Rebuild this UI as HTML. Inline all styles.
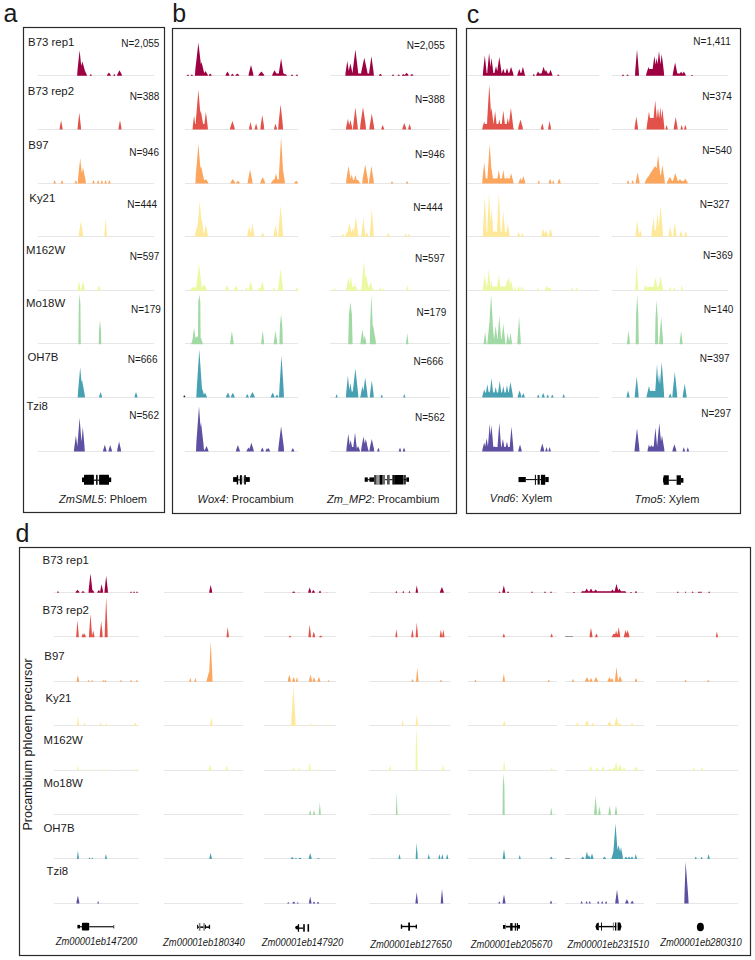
<!DOCTYPE html><html><head><meta charset="utf-8"><style>html,body{margin:0;padding:0;background:#fff;width:755px;height:960px;overflow:hidden}svg{display:block}text{font-family:"Liberation Sans",sans-serif;fill:#1a1a1a}.i{font-style:italic}</style></head><body><svg width="755" height="960" viewBox="0 0 755 960"><rect x="0" y="0" width="755" height="960" fill="#fff"/><g font-size="25"><text x="3.5" y="21.9">a</text><text x="172.2" y="22.3">b</text><text x="466.8" y="22.5">c</text><text x="15.5" y="542">d</text></g><g fill="none" stroke="#2a2a2a" stroke-width="1.2"><rect x="23.5" y="27.5" width="141" height="485"/><rect x="172.5" y="28.5" width="284" height="485"/><rect x="466.5" y="28.5" width="274" height="485"/><rect x="19.5" y="547.5" width="731" height="408"/></g><g stroke="#e6e6e6" stroke-width="1"><line x1="38" y1="75.5" x2="154" y2="75.5"/><line x1="185" y1="75.5" x2="298" y2="75.5"/><line x1="330" y1="75.5" x2="450" y2="75.5"/><line x1="467" y1="75.5" x2="599" y2="75.5"/><line x1="612" y1="75.5" x2="728" y2="75.5"/><line x1="54" y1="592.5" x2="138.7" y2="592.5"/><line x1="164" y1="592.5" x2="243.4" y2="592.5"/><line x1="263.8" y1="592.5" x2="336" y2="592.5"/><line x1="369.5" y1="592.5" x2="450.3" y2="592.5"/><line x1="468" y1="592.5" x2="557" y2="592.5"/><line x1="565" y1="592.5" x2="644" y2="592.5"/><line x1="656" y1="592.5" x2="738" y2="592.5"/><line x1="38" y1="129.5" x2="154" y2="129.5"/><line x1="185" y1="129.5" x2="298" y2="129.5"/><line x1="330" y1="129.5" x2="450" y2="129.5"/><line x1="467" y1="129.5" x2="599" y2="129.5"/><line x1="612" y1="129.5" x2="728" y2="129.5"/><line x1="54" y1="636.5" x2="138.7" y2="636.5"/><line x1="164" y1="636.5" x2="243.4" y2="636.5"/><line x1="263.8" y1="636.5" x2="336" y2="636.5"/><line x1="369.5" y1="636.5" x2="450.3" y2="636.5"/><line x1="468" y1="636.5" x2="557" y2="636.5"/><line x1="565" y1="636.5" x2="644" y2="636.5"/><line x1="656" y1="636.5" x2="738" y2="636.5"/><line x1="38" y1="183.5" x2="154" y2="183.5"/><line x1="185" y1="183.5" x2="298" y2="183.5"/><line x1="330" y1="183.5" x2="450" y2="183.5"/><line x1="467" y1="183.5" x2="599" y2="183.5"/><line x1="612" y1="183.5" x2="728" y2="183.5"/><line x1="54" y1="681.5" x2="138.7" y2="681.5"/><line x1="164" y1="681.5" x2="243.4" y2="681.5"/><line x1="263.8" y1="681.5" x2="336" y2="681.5"/><line x1="369.5" y1="681.5" x2="450.3" y2="681.5"/><line x1="468" y1="681.5" x2="557" y2="681.5"/><line x1="565" y1="681.5" x2="644" y2="681.5"/><line x1="656" y1="681.5" x2="738" y2="681.5"/><line x1="38" y1="236.5" x2="154" y2="236.5"/><line x1="185" y1="236.5" x2="298" y2="236.5"/><line x1="330" y1="236.5" x2="450" y2="236.5"/><line x1="467" y1="236.5" x2="599" y2="236.5"/><line x1="612" y1="236.5" x2="728" y2="236.5"/><line x1="54" y1="725.5" x2="138.7" y2="725.5"/><line x1="164" y1="725.5" x2="243.4" y2="725.5"/><line x1="263.8" y1="725.5" x2="336" y2="725.5"/><line x1="369.5" y1="725.5" x2="450.3" y2="725.5"/><line x1="468" y1="725.5" x2="557" y2="725.5"/><line x1="565" y1="725.5" x2="644" y2="725.5"/><line x1="656" y1="725.5" x2="738" y2="725.5"/><line x1="38" y1="290.5" x2="154" y2="290.5"/><line x1="185" y1="290.5" x2="298" y2="290.5"/><line x1="330" y1="290.5" x2="450" y2="290.5"/><line x1="467" y1="290.5" x2="599" y2="290.5"/><line x1="612" y1="290.5" x2="728" y2="290.5"/><line x1="54" y1="770.5" x2="138.7" y2="770.5"/><line x1="164" y1="770.5" x2="243.4" y2="770.5"/><line x1="263.8" y1="770.5" x2="336" y2="770.5"/><line x1="369.5" y1="770.5" x2="450.3" y2="770.5"/><line x1="468" y1="770.5" x2="557" y2="770.5"/><line x1="565" y1="770.5" x2="644" y2="770.5"/><line x1="656" y1="770.5" x2="738" y2="770.5"/><line x1="38" y1="343.5" x2="154" y2="343.5"/><line x1="185" y1="343.5" x2="298" y2="343.5"/><line x1="330" y1="343.5" x2="450" y2="343.5"/><line x1="467" y1="343.5" x2="599" y2="343.5"/><line x1="612" y1="343.5" x2="728" y2="343.5"/><line x1="54" y1="814.5" x2="138.7" y2="814.5"/><line x1="164" y1="814.5" x2="243.4" y2="814.5"/><line x1="263.8" y1="814.5" x2="336" y2="814.5"/><line x1="369.5" y1="814.5" x2="450.3" y2="814.5"/><line x1="468" y1="814.5" x2="557" y2="814.5"/><line x1="565" y1="814.5" x2="644" y2="814.5"/><line x1="656" y1="814.5" x2="738" y2="814.5"/><line x1="38" y1="397.5" x2="154" y2="397.5"/><line x1="185" y1="397.5" x2="298" y2="397.5"/><line x1="330" y1="397.5" x2="450" y2="397.5"/><line x1="467" y1="397.5" x2="599" y2="397.5"/><line x1="612" y1="397.5" x2="728" y2="397.5"/><line x1="54" y1="858.5" x2="138.7" y2="858.5"/><line x1="164" y1="858.5" x2="243.4" y2="858.5"/><line x1="263.8" y1="858.5" x2="336" y2="858.5"/><line x1="369.5" y1="858.5" x2="450.3" y2="858.5"/><line x1="468" y1="858.5" x2="557" y2="858.5"/><line x1="565" y1="858.5" x2="644" y2="858.5"/><line x1="656" y1="858.5" x2="738" y2="858.5"/><line x1="38" y1="451.5" x2="154" y2="451.5"/><line x1="185" y1="451.5" x2="298" y2="451.5"/><line x1="330" y1="451.5" x2="450" y2="451.5"/><line x1="467" y1="451.5" x2="599" y2="451.5"/><line x1="612" y1="451.5" x2="728" y2="451.5"/><line x1="54" y1="903.5" x2="138.7" y2="903.5"/><line x1="164" y1="903.5" x2="243.4" y2="903.5"/><line x1="263.8" y1="903.5" x2="336" y2="903.5"/><line x1="369.5" y1="903.5" x2="450.3" y2="903.5"/><line x1="468" y1="903.5" x2="557" y2="903.5"/><line x1="565" y1="903.5" x2="644" y2="903.5"/><line x1="656" y1="903.5" x2="738" y2="903.5"/><line x1="565" y1="636.5" x2="573" y2="636.5" stroke="#999"/><line x1="565" y1="858.5" x2="570" y2="858.5" stroke="#999"/></g><path fill="#9e0142" d="M77.1 75.8L77.5 70.3L79.6 50.3L81.7 70.3L82.1 75.8ZM78.9 75.8L79.4 72.5L82.4 61.4L85.4 72.5L85.9 75.8ZM82 75.8L82.4 74.2L84.5 70L86.6 74.2L87 75.8ZM89.8 75.8L90 75L90.8 74L91.6 75L91.8 75.8ZM106.9 75.8L107.2 74.7L108.9 72.5L110.6 74.7L110.9 75.8ZM113.3 75.8L113.5 75L114.3 74L115.1 75L115.3 75.8ZM117 75.8L117.4 74.3L119.5 70.3L121.6 74.3L122 75.8ZM194.9 75.8L195.4 68.8L198.4 42.7L201.4 68.8L201.9 75.8ZM198.5 75.8L198.9 72.6L201.5 62L204.1 72.6L204.5 75.8ZM203 75.8L203.4 74.4L205.5 70.9L207.6 74.4L208 75.8ZM208.7 75.8L208.9 74.9L210.2 73.5L211.5 74.9L211.7 75.8ZM187 75.8L187.2 75.1L188 74.5L188.8 75.1L189 75.8ZM190.8 75.8L191 75.1L191.8 74.5L192.7 75.1L192.8 75.8ZM225.5 75.8L225.8 74.6L227.5 71.6L229.2 74.6L229.5 75.8ZM230.9 75.8L231.1 75L232.4 73.7L233.7 75L233.9 75.8ZM235.3 75.8L235.6 74.9L237.3 73.5L239 74.9L239.3 75.8ZM248.5 75.8L248.9 73.2L251 65L253.1 73.2L253.5 75.8ZM258.4 75.8L258.8 74.6L261.4 71.6L263.9 74.6L264.4 75.8ZM272.1 75.8L272.5 74.3L274.6 70.3L276.7 74.3L277.1 75.8ZM278.6 75.8L279 71.9L281.1 58.5L283.2 71.9L283.6 75.8ZM283 75.8L283.3 75L285 74L286.7 75L287 75.8ZM291 75.8L291.1 75.1L292 74.5L292.9 75.1L293 75.8ZM296 75.8L296.1 75.1L297 74.5L297.9 75.1L298 75.8ZM345.3 75.8L345.6 72.4L347.3 60.9L349 72.4L349.3 75.8ZM347.9 75.8L348.3 72.9L350.4 63.4L352.5 72.9L352.9 75.8ZM352.4 75.8L352.8 70.2L355.4 49.6L357.9 70.2L358.4 75.8ZM360.8 75.8L361.3 71.8L364.3 57.7L367.3 71.8L367.8 75.8ZM368.9 75.8L369.3 71.5L371.4 56.2L373.5 71.5L373.9 75.8ZM378.9 75.8L379.1 75L380.4 73.7L381.7 75L381.9 75.8ZM392 75.8L392.1 75.1L393 74.5L393.9 75.1L394 75.8ZM397.7 75.8L397.8 75.1L398.7 74.5L399.6 75.1L399.7 75.8ZM401.9 75.8L402.1 75L403.4 74L404.7 75L404.9 75.8ZM404.6 75.8L404.9 74.8L406.6 72.8L408.3 74.8L408.6 75.8ZM410.4 75.8L410.6 75L411.9 74L413.2 75L413.4 75.8ZM195 75.8L197 73L206 73L208 75.8ZM272 75.8L274 73.5L284 73.5L286 75.8ZM345 75.8L347 73.5L371 73.5L373 75.8ZM482.8 75.8L483.1 71.4L484.8 55.6L486.5 71.4L486.8 75.8ZM487.1 75.8L487.4 70.8L489.1 53L490.8 70.8L491.1 75.8ZM489.5 75.8L489.8 71.8L491.5 58L493.2 71.8L493.5 75.8ZM494 75.8L494.3 73.4L496 66L497.7 73.4L498 75.8ZM496.8 75.8L497.2 71.6L499.3 57L501.4 71.6L501.8 75.8ZM501.3 75.8L501.6 74L503.3 68.8L505 74L505.3 75.8ZM505 75.8L505.3 73.8L507 68L508.7 73.8L509 75.8ZM508.6 75.8L509 73.6L511.1 67L513.2 73.6L513.6 75.8ZM517.3 75.8L517.6 74L519.3 69L521 74L521.3 75.8ZM520.9 75.8L521.2 73.6L522.9 66.7L524.6 73.6L524.9 75.8ZM532.8 75.8L532.9 75L533.8 74L534.6 75L534.8 75.8ZM536.1 75.8L536.4 74.5L538.1 71.5L539.8 74.5L540.1 75.8ZM541.1 75.8L541.5 73.6L543.6 66.7L545.7 73.6L546.1 75.8ZM543.5 75.8L543.9 74.2L546 70L548.1 74.2L548.5 75.8ZM548.5 75.8L548.8 74.2L550.5 69.7L552.2 74.2L552.5 75.8ZM557.3 75.8L557.4 75.1L558.3 74.5L559.1 75.1L559.3 75.8ZM622 75.8L622.1 75.1L623 74.5L623.9 75.1L624 75.8ZM626.6 75.8L626.8 75.1L627.6 74.5L628.5 75.1L628.6 75.8ZM635 75.8L635.3 70.1L637 49.4L638.7 70.1L639 75.8ZM646 75.8L646.4 73.6L648.5 67L650.6 73.6L651 75.8ZM648.3 75.8L648.6 74L650.3 69L652 74L652.3 75.8ZM651.9 75.8L652.3 71.5L654.4 56.1L656.5 71.5L656.9 75.8ZM654.1 75.8L654.5 71.8L656.6 58L658.7 71.8L659.1 75.8ZM656.5 75.8L656.9 70.4L659 51L661.1 70.4L661.5 75.8ZM659.2 75.8L659.6 71.1L661.7 54.3L663.8 71.1L664.2 75.8ZM672.6 75.8L673 72.7L675.1 62.5L677.2 72.7L677.6 75.8ZM676 75.8L676.3 75L678 74L679.7 75L680 75.8ZM679.1 75.8L679.4 74.5L681.1 71.5L682.8 74.5L683.1 75.8ZM681.8 75.8L682.1 74.5L683.8 71.5L685.5 74.5L685.8 75.8ZM691 75.8L691.1 75.2L692 75L692.9 75.2L693 75.8ZM483 75.8L485 73L511.5 73L513.5 75.8ZM517 75.8L519 73L523.5 73L525.5 75.8ZM536 75.8L538 73.5L550 73.5L552 75.8ZM647 75.8L649 69L662 69L664 75.8ZM673 75.8L675 73.5L684 73.5L686 75.8Z"/><path fill="#9e0142" d="M57.2 592.7L57.3 592L58 591L58.7 592L58.8 592.7ZM75.5 592.7L75.8 591.7L77.5 589.7L79.2 591.7L79.5 592.7ZM81.5 592.7L81.7 592L83 591L84.3 592L84.5 592.7ZM88.5 592.7L88.8 588.5L90.5 573.6L92.2 588.5L92.5 592.7ZM91.2 592.7L91.4 591.8L92.7 590L94 591.8L94.2 592.7ZM97.3 592.7L97.5 591.8L98.8 590L100.1 591.8L100.3 592.7ZM100.1 592.7L100.3 590.6L101.6 584.2L102.9 590.6L103.1 592.7ZM104.4 592.7L104.7 588.9L106.2 575.8L107.7 588.9L108 592.7ZM130.2 592.7L130.3 592.1L131 591.5L131.7 592.1L131.8 592.7ZM133.2 592.7L133.3 592.1L134 591.5L134.7 592.1L134.8 592.7ZM136.2 592.7L136.3 592.1L137 591.5L137.7 592.1L137.8 592.7ZM209.2 592.7L209.4 590.8L210.7 585L212 590.8L212.2 592.7ZM292.2 592.7L292.4 592.1L293.7 591.5L295 592.1L295.2 592.7ZM297.8 592.7L297.9 592.4L298.8 593L299.7 592.4L299.8 592.7ZM308.2 592.7L308.4 591.2L309.7 587.4L311 591.2L311.2 592.7ZM311.9 592.7L312.1 591.8L313.4 590L314.7 591.8L314.9 592.7ZM318.8 592.7L319 591.9L320 590.5L321 591.9L321.2 592.7ZM326.2 592.7L326.3 592.4L327 593L327.7 592.4L327.8 592.7ZM395.6 592.7L395.7 592L396.4 591L397.1 592L397.2 592.7ZM402.5 592.7L402.6 592L403.3 591L404 592L404.1 592.7ZM408.7 592.7L408.8 592L409.5 591L410.2 592L410.3 592.7ZM415.6 592.7L415.8 590.9L416.8 585.5L417.8 590.9L418 592.7ZM439.9 592.7L440.2 591.2L441.9 587L443.6 591.2L443.9 592.7ZM498.7 592.7L498.8 592.1L499.5 591.5L500.2 592.1L500.3 592.7ZM502.3 592.7L502.5 590.9L503.8 585.5L505.1 590.9L505.3 592.7ZM507 592.7L507.1 592.1L508 591.5L508.9 592.1L509 592.7ZM531.2 592.7L531.3 592.1L532 591.5L532.7 592.1L532.8 592.7ZM544.2 592.7L544.3 592.1L545 591.5L545.7 592.1L545.8 592.7ZM550.2 592.7L550.3 592.1L551 591.5L551.7 592.1L551.8 592.7ZM573 592.7L573.1 592.2L574 592L574.9 592.2L575 592.7ZM581.1 592.7L581.3 592L582.6 591L583.9 592L584.1 592.7ZM584.7 592.7L585 591.4L586.7 588.4L588.4 591.4L588.7 592.7ZM589 592.7L589.3 591.4L591 588.4L592.7 591.4L593 592.7ZM593.7 592.7L594 591.6L595.7 589.4L597.4 591.6L597.7 592.7ZM598.5 592.7L598.7 592L600 591L601.3 592L601.5 592.7ZM602.5 592.7L602.7 592L604 591L605.3 592L605.5 592.7ZM606.5 592.7L606.7 592L608 591L609.3 592L609.5 592.7ZM610.4 592.7L610.7 591.7L612.4 589.5L614.1 591.7L614.4 592.7ZM614.5 592.7L614.8 590.6L616.5 584L618.2 590.6L618.5 592.7ZM617.4 592.7L617.7 591.4L619.4 588.4L621.1 591.4L621.4 592.7ZM623.3 592.7L623.5 592L624.8 591L626.1 592L626.3 592.7ZM630 592.7L630.1 592.2L631 592L631.9 592.2L632 592.7ZM635 592.7L635.1 592L636 591L636.9 592L637 592.7ZM677 592.7L677.1 592.1L677.8 591.5L678.5 592.1L678.6 592.7ZM684.9 592.7L685 592.1L685.5 591.5L686 592.1L686.1 592.7ZM691.8 592.7L691.9 592.1L692.6 591.5L693.3 592.1L693.4 592.7ZM698 592.7L698.1 592.1L699 591.5L699.9 592.1L700 592.7ZM700.2 592.7L700.3 592.1L701 591.5L701.7 592.1L701.8 592.7ZM708.4 592.7L708.5 592.1L709.2 591.5L709.9 592.1L710 592.7ZM581 592.7L583 591.2L624 591.2L626 592.7Z"/><path fill="#e2524a" d="M59.6 129.5L59.8 127.2L61.1 120.2L62.4 127.2L62.6 129.5ZM77.5 129.5L77.8 125.7L79.3 112.4L80.8 125.7L81.1 129.5ZM118.5 129.5L118.7 127.2L120 120.2L121.3 127.2L121.5 129.5ZM192.6 129.5L192.8 126.3L194.1 115.5L195.4 126.3L195.6 129.5ZM195.4 129.5L195.8 121.2L198.4 90L201 121.2L201.4 129.5ZM197.8 129.5L198.2 125.4L200.8 110.8L203.4 125.4L203.8 129.5ZM203.9 129.5L204.2 125.5L205.9 111.7L207.6 125.5L207.9 129.5ZM229.9 129.5L230.3 127.4L232.4 121.1L234.5 127.4L234.9 129.5ZM249 129.5L249.2 127.6L250.5 122L251.8 127.6L252 129.5ZM254.6 129.5L254.8 127.9L256.1 123.4L257.4 127.9L257.6 129.5ZM260.3 129.5L260.6 126.2L262.3 115.1L264 126.2L264.3 129.5ZM274 129.5L274.2 127.9L275.5 123.5L276.8 127.9L277 129.5ZM278.1 129.5L278.5 124L280.6 104.2L282.7 124L283.1 129.5ZM345.9 129.5L346.2 127L347.9 118.8L349.6 127L349.9 129.5ZM348.4 129.5L348.7 127.2L350.4 120L352.1 127.2L352.4 129.5ZM352.9 129.5L353.3 124.7L355.4 107.4L357.5 124.7L357.9 129.5ZM360 129.5L360.4 124.6L363 107L365.6 124.6L366 129.5ZM369.3 129.5L369.7 125.9L371.8 113.6L373.9 125.9L374.3 129.5ZM381.2 129.5L381.4 128.2L382.7 124.9L384 128.2L384.2 129.5ZM402.3 129.5L402.6 127.8L404.3 123L406 127.8L406.3 129.5ZM408.1 129.5L408.3 128L409.6 124L410.9 128L411.1 129.5ZM192.5 129.5L194.5 124L206 124L208 129.5ZM482.2 129.5L482.5 127.5L484.2 121.5L485.9 127.5L486.2 129.5ZM486.8 129.5L487.2 120.1L489.3 84.6L491.4 120.1L491.8 129.5ZM489 129.5L489.4 124.8L491.5 107.8L493.6 124.8L494 129.5ZM493.1 129.5L493.4 125.4L495.1 111L496.8 125.4L497.1 129.5ZM497.3 129.5L497.6 127.1L499.3 119.6L501 127.1L501.3 129.5ZM501.3 129.5L501.6 125.3L503.3 110.6L505 125.3L505.3 129.5ZM505.8 129.5L506.1 126.8L507.8 118L509.5 126.8L509.8 129.5ZM508.4 129.5L508.8 124.8L510.9 107.8L513 124.8L513.4 129.5ZM518 129.5L518.4 127.1L520.5 119.6L522.6 127.1L523 129.5ZM540.8 129.5L541 127.9L542.3 123.3L543.6 127.9L543.8 129.5ZM548.1 129.5L548.3 127.4L549.6 120.9L550.9 127.4L551.1 129.5ZM634.5 129.5L634.8 126.5L636.3 116.6L637.8 126.5L638.1 129.5ZM646.5 129.5L646.9 125.5L649 111.5L651.1 125.5L651.5 129.5ZM652.7 129.5L653.1 123.3L655.2 100.6L657.3 123.3L657.7 129.5ZM656 129.5L656.3 124.8L658 107.8L659.7 124.8L660 129.5ZM658.3 129.5L658.6 124.6L660.3 107L662 124.6L662.3 129.5ZM660.4 129.5L660.7 125L662.4 108.8L664.1 125L664.4 129.5ZM665.4 129.5L665.6 128.2L666.6 125L667.6 128.2L667.8 129.5ZM673.7 129.5L674 126.6L675.7 117L677.4 126.6L677.7 129.5ZM680.5 129.5L680.7 128.2L681.7 125L682.7 128.2L682.9 129.5ZM684.1 129.5L684.3 128.1L685.3 124.7L686.3 128.1L686.5 129.5ZM483 129.5L485 124L512 124L514 129.5ZM647 129.5L649 118L662 118L664 129.5Z"/><path fill="#e2524a" d="M76.2 637.2L76.4 633.4L77.5 620.3L78.6 633.4L78.8 637.2ZM81.7 637.2L81.9 636L83 633.3L84.1 636L84.3 637.2ZM83.2 637.2L83.4 636L84.5 633.3L85.6 636L85.8 637.2ZM89 637.2L89.2 632.1L90.5 613.8L91.8 632.1L92 637.2ZM91.9 637.2L92.1 635.5L93.2 630.5L94.3 635.5L94.5 637.2ZM99.7 637.2L99.9 633.6L101.2 621.2L102.5 633.6L102.7 637.2ZM104.7 637.2L104.9 628.8L106.2 597.1L107.5 628.8L107.7 637.2ZM226.5 637.2L226.7 634.8L227.7 627L228.7 634.8L228.9 637.2ZM288.8 637.2L289 636.5L290 635.5L291 636.5L291.2 637.2ZM308.4 637.2L308.6 634.3L309.7 624.8L310.8 634.3L311 637.2ZM312.5 637.2L312.7 635.6L313.8 631.4L314.9 635.6L315.1 637.2ZM319.2 637.2L319.4 636.5L320.7 635.5L322 636.5L322.2 637.2ZM395.4 637.2L395.5 635.2L396.4 629.2L397.2 635.2L397.4 637.2ZM411.2 637.2L411.4 635.2L412.4 629.2L413.4 635.2L413.6 637.2ZM415.6 637.2L415.8 633.9L416.8 622.6L417.8 633.9L418 637.2ZM439.7 637.2L439.9 635.3L440.9 629.6L441.9 635.3L442.1 637.2ZM442.1 637.2L442.3 635.3L443.3 629.6L444.3 635.3L444.5 637.2ZM502.6 637.2L502.8 636.1L503.8 633.6L504.8 636.1L505 637.2ZM550.4 637.2L550.6 636.1L551.6 633.6L552.6 636.1L552.8 637.2ZM589.5 637.2L589.7 634.9L591 627.7L592.3 634.9L592.5 637.2ZM595.1 637.2L595.3 636.1L596.4 633.6L597.5 636.1L597.7 637.2ZM612.1 637.2L612.3 636.1L613.6 633.6L614.9 636.1L615.1 637.2ZM614.6 637.2L614.8 635.5L616.1 630.5L617.4 635.5L617.6 637.2ZM617.2 637.2L617.4 634.8L618.7 627.3L620 634.8L620.2 637.2ZM623.8 637.2L624.1 635.4L625.6 630L627.1 635.4L627.4 637.2ZM625.9 637.2L626.2 635.4L627.7 630L629.2 635.4L629.5 637.2ZM715.9 637.2L716 635.7L716.9 631.5L717.8 635.7L717.9 637.2ZM611.5 637.2L613.5 634L618.5 634L620.5 637.2ZM623.5 637.2L625.5 633L627.5 633L629.5 637.2Z"/><path fill="#fca55d" d="M77.7 183.5L78.1 178L80.2 157.9L82.3 178L82.7 183.5ZM80 183.5L80.5 179.9L83 167.5L85.5 179.9L86 183.5ZM53.4 183.5L53.6 182.4L54.6 180L55.6 182.4L55.8 183.5ZM60.8 183.5L61 182.4L62 180L63 182.4L63.2 183.5ZM74.7 183.5L74.9 182.4L75.9 180L76.9 182.4L77.1 183.5ZM92.3 183.5L92.5 182.4L93.5 180L94.5 182.4L94.7 183.5ZM97 183.5L97.2 182.4L98.2 180L99.2 182.4L99.4 183.5ZM100.7 183.5L100.9 182.4L101.9 180L102.9 182.4L103.1 183.5ZM104.4 183.5L104.6 182.4L105.6 180L106.6 182.4L106.8 183.5ZM108.1 183.5L108.3 182.4L109.3 180L110.3 182.4L110.5 183.5ZM195.4 183.5L195.8 175.2L198.4 143.9L201 175.2L201.4 183.5ZM197.5 183.5L198 179.6L201 166L204 179.6L204.5 183.5ZM203.4 183.5L203.8 182.2L205.9 178.9L208 182.2L208.4 183.5ZM230.3 183.5L230.7 182.2L232.8 178.9L234.9 182.2L235.3 183.5ZM235.9 183.5L236.2 182.6L237.9 180.8L239.6 182.6L239.9 183.5ZM247.6 183.5L248 180.3L250.1 169.5L252.2 180.3L252.6 183.5ZM260.2 183.5L260.6 181.8L262.7 177L264.8 181.8L265.2 183.5ZM271 183.5L271.4 182.2L274 179L276.6 182.2L277 183.5ZM274 183.5L274.3 181L276 173.2L277.7 181L278 183.5ZM278.6 183.5L279 173.8L281.1 136.9L283.2 173.8L283.6 183.5ZM281 183.5L281.3 180.4L283 170L284.7 180.4L285 183.5ZM294.2 183.5L294.5 182.6L296.2 180.8L297.9 182.6L298.2 183.5ZM346 183.5L346.4 179.5L348.5 165.7L350.6 179.5L351 183.5ZM349.7 183.5L350 181.3L351.7 174.6L353.4 181.3L353.7 183.5ZM353.4 183.5L353.7 181.4L355.4 175L357.1 181.4L357.4 183.5ZM356 183.5L356.3 182.4L358 180L359.7 182.4L360 183.5ZM362.2 183.5L362.6 179.3L365.2 164.6L367.8 179.3L368.2 183.5ZM368.9 183.5L369.3 179.6L371.4 166L373.5 179.6L373.9 183.5ZM391 183.5L391.1 182.6L392 181L392.9 182.6L393 183.5ZM406 183.5L406.1 182.6L407 181L407.9 182.6L408 183.5ZM195 183.5L197 180L206 180L208 183.5ZM272 183.5L274 179.5L282 179.5L284 183.5ZM346 183.5L348 180L358 180L360 183.5ZM482.2 183.5L482.5 178.9L484.2 162.3L485.9 178.9L486.2 183.5ZM487.2 183.5L487.6 175.2L489.7 144.2L491.8 175.2L492.2 183.5ZM489.5 183.5L489.8 180.1L491.5 168.7L493.2 180.1L493.5 183.5ZM494 183.5L494.3 182L496 178L497.7 182L498 183.5ZM496.8 183.5L497.1 180.4L498.8 170.1L500.5 180.4L500.8 183.5ZM501.3 183.5L501.6 180.4L503.3 170.1L505 180.4L505.3 183.5ZM505 183.5L505.3 181.8L507 177L508.7 181.8L509 183.5ZM508.6 183.5L509 181L511.1 173.2L513.2 181L513.6 183.5ZM518.5 183.5L518.8 182L520.5 178L522.2 182L522.5 183.5ZM521.3 183.5L521.6 181.6L523.3 176L525 181.6L525.3 183.5ZM537.7 183.5L537.9 182.4L538.7 180L539.6 182.4L539.7 183.5ZM548.6 183.5L548.8 182.2L550.1 179L551.4 182.2L551.6 183.5ZM552.2 183.5L552.4 182.4L553.2 180L554.1 182.4L554.2 183.5ZM557.7 183.5L557.9 182.1L559.2 178.5L560.5 182.1L560.7 183.5ZM626.9 183.5L627.1 182.4L628.1 180L629.1 182.4L629.3 183.5ZM631.5 183.5L631.7 182.4L632.7 180L633.7 182.4L633.9 183.5ZM635.6 183.5L635.9 180.9L637.6 172.3L639.3 180.9L639.6 183.5ZM644.7 183.5L645.1 181.9L647.2 177.6L649.3 181.9L649.7 183.5ZM649.6 183.5L650 181L652.1 173.2L654.2 181L654.6 183.5ZM655.1 183.5L655.6 177.4L658.1 155.1L660.6 177.4L661.1 183.5ZM659.9 183.5L660.3 179.4L662.4 165L664.5 179.4L664.9 183.5ZM666.8 183.5L667.2 181.9L669.3 177.7L671.4 181.9L671.8 183.5ZM672.8 183.5L673.2 181.2L675.3 174.1L677.4 181.2L677.8 183.5ZM678.4 183.5L678.7 182.5L680.2 180.3L681.7 182.5L682 183.5ZM683.5 183.5L683.8 182.3L685.3 179.6L686.8 182.3L687.1 183.5ZM483 183.5L485 178.5L511 178.5L513 183.5ZM645 183.5L646.5 179.6L655 166L663.5 179.6L665 183.5ZM645 183.5L647 178L663 178L665 183.5ZM667 183.5L667.5 181.8L670 177L672.5 181.8L673 183.5ZM672.3 183.5L672.8 181L675.3 173L677.8 181L678.3 183.5ZM677 183.5L677.5 182.2L680 179L682.5 182.2L683 183.5ZM682.8 183.5L683.2 182.1L685.3 178.6L687.4 182.1L687.8 183.5ZM667 183.5L669 181L686 181L688 183.5Z"/><path fill="#fca55d" d="M76.6 681.7L76.8 679.9L77.9 674.9L79 679.9L79.2 681.7ZM87.6 681.7L87.8 681L88.6 680L89.4 681L89.6 681.7ZM91 681.7L91.2 681L92 680L92.8 681L93 681.7ZM102.4 681.7L102.6 681L103.4 680L104.2 681L104.4 681.7ZM104.3 681.7L104.5 681L105.3 680L106.1 681L106.3 681.7ZM120 681.7L120.2 681L121 680L121.8 681L122 681.7ZM130 681.7L130.2 681L131 680L131.8 681L132 681.7ZM135.8 681.7L136 681L136.8 680L137.7 681L137.8 681.7ZM208.9 681.7L209.2 673.1L210.7 640.9L212.2 673.1L212.5 681.7ZM206.5 681.7L206.9 679.4L209 672L211.1 679.4L211.5 681.7ZM189.3 681.7L189.5 680.6L190.3 678L191.2 680.6L191.3 681.7ZM194.4 681.7L194.6 680.6L195.4 678L196.2 680.6L196.4 681.7ZM287.8 681.7L288 679.8L289.3 674.4L290.6 679.8L290.8 681.7ZM292.2 681.7L292.4 680.4L293.7 677L295 680.4L295.2 681.7ZM296 681.7L296.1 680.4L297 677L297.9 680.4L298 681.7ZM309 681.7L309.2 679.8L310.5 674.4L311.8 679.8L312 681.7ZM312.5 681.7L312.7 680.4L314 677L315.3 680.4L315.5 681.7ZM317.5 681.7L317.7 680.4L319 677L320.3 680.4L320.5 681.7ZM327.9 681.7L328 681L328.7 680L329.4 681L329.5 681.7ZM416.1 681.7L416.3 678.5L417.3 667.8L418.3 678.5L418.5 681.7ZM411.5 681.7L411.6 680.8L412.5 679L413.4 680.8L413.5 681.7ZM440 681.7L440.1 680.9L441 679.5L441.9 680.9L442 681.7ZM474.5 681.7L474.6 680.9L475.5 679.5L476.4 680.9L476.5 681.7ZM502.6 681.7L502.8 679.7L503.8 673.6L504.8 679.7L505 681.7ZM547.7 681.7L547.9 680.9L548.7 679.5L549.6 680.9L549.7 681.7ZM572 681.7L572.1 680.8L573 679L573.9 680.8L574 681.7ZM585 681.7L585.3 680.4L587 677L588.7 680.4L589 681.7ZM589.5 681.7L589.7 680.6L591 678L592.3 680.6L592.5 681.7ZM594 681.7L594.3 680.4L596 677L597.7 680.4L598 681.7ZM607.5 681.7L607.8 680.4L609.5 677L611.2 680.4L611.5 681.7ZM610.5 681.7L610.7 680.6L612 678L613.3 680.6L613.5 681.7ZM615 681.7L615.2 678.4L616.5 667L617.8 678.4L618 681.7ZM618 681.7L618.3 680.2L620 676L621.7 680.2L622 681.7ZM634.8 681.7L635 680.6L636 678L637 680.6L637.2 681.7ZM684.5 681.7L684.6 680.9L685.5 679.5L686.4 680.9L686.5 681.7ZM707.3 681.7L707.4 680.9L708.3 679.5L709.1 680.9L709.3 681.7Z"/><path fill="#fee99a" d="M78.7 236.7L79 233.1L80.9 220.9L82.8 233.1L83.1 236.7ZM104.3 236.7L104.5 232.7L105.6 218.5L106.7 232.7L106.9 236.7ZM196.9 236.7L197.3 229.1L199.7 200.9L202.1 229.1L202.5 236.7ZM194.8 236.7L195.1 234.2L197 226L198.9 234.2L199.2 236.7ZM199 236.7L199.4 232.6L201.5 218L203.6 232.6L204 236.7ZM203.9 236.7L204.2 233.8L205.9 224.4L207.6 233.8L207.9 236.7ZM247.2 236.7L247.5 234.2L249.2 226.3L250.9 234.2L251.2 236.7ZM250.4 236.7L250.7 233.8L252.4 224L254.1 233.8L254.4 236.7ZM261.2 236.7L261.4 235.4L262.7 232.3L264 235.4L264.2 236.7ZM273.5 236.7L273.8 233.9L275.5 224.8L277.2 233.9L277.5 236.7ZM278.1 236.7L278.5 230.1L280.6 205.6L282.7 230.1L283.1 236.7ZM341.8 236.7L341.9 235.6L342.8 233.4L343.7 235.6L343.8 236.7ZM346.9 236.7L347.3 233.5L349.4 222.9L351.5 233.5L351.9 236.7ZM350.6 236.7L350.9 234.6L352.6 228L354.3 234.6L354.6 236.7ZM353.3 236.7L353.7 232.3L355.8 216.9L357.9 232.3L358.3 236.7ZM361.3 236.7L361.6 232.5L363.3 217.8L365 232.5L365.3 236.7ZM365.2 236.7L365.4 235.4L366.7 232L368 235.4L368.2 236.7ZM369.8 236.7L370.1 230.6L371.8 208.4L373.5 230.6L373.8 236.7ZM386.8 236.7L387 235.6L388.3 233L389.6 235.6L389.8 236.7ZM404.8 236.7L404.9 235.6L405.8 233L406.7 235.6L406.8 236.7ZM408 236.7L408.1 235.7L409 233.5L409.9 235.7L410 236.7ZM195 236.7L197 233L206 233L208 236.7ZM345 236.7L347 232L357 232L359 236.7ZM482.8 236.7L483.1 228.3L484.8 196.8L486.5 228.3L486.8 236.7ZM487.1 236.7L487.4 227.4L489.1 192.3L490.8 227.4L491.1 236.7ZM489.5 236.7L489.8 230.7L491.5 208.6L493.2 230.7L493.5 236.7ZM493.1 236.7L493.4 235L495.1 230L496.8 235L497.1 236.7ZM496.8 236.7L497.1 227.3L498.8 191.9L500.5 227.3L500.8 236.7ZM501.3 236.7L501.6 231.2L503.3 211.3L505 231.2L505.3 236.7ZM505.8 236.7L506.1 233.8L507.8 224L509.5 233.8L509.8 236.7ZM517.2 236.7L517.4 235.4L518.7 232L520 235.4L520.2 236.7ZM521.1 236.7L521.3 235.6L522.3 233L523.3 235.6L523.5 236.7ZM541.2 236.7L541.5 234.7L543.2 228.5L544.9 234.7L545.2 236.7ZM544 236.7L544.3 235L546 230L547.7 235L548 236.7ZM548.5 236.7L548.8 234.7L550.5 228.5L552.2 234.7L552.5 236.7ZM635.4 236.7L635.7 233L637.2 220.4L638.7 233L639 236.7ZM638.8 236.7L639 235L640.3 230.3L641.6 235L641.8 236.7ZM651.4 236.7L651.7 232.5L653.4 217.7L655.1 232.5L655.4 236.7ZM655.5 236.7L655.8 231.6L657.5 213.1L659.2 231.6L659.5 236.7ZM658.1 236.7L658.5 230.1L660.6 205.9L662.7 230.1L663.1 236.7ZM668.4 236.7L668.7 234.3L670.2 226.7L671.7 234.3L672 236.7ZM673 236.7L673.3 233.5L674.8 222.7L676.3 233.5L676.6 236.7ZM679.6 236.7L679.8 235L681.1 230.3L682.4 235L682.6 236.7ZM684.2 236.7L684.4 235.2L685.7 231.2L687 235.2L687.2 236.7ZM483 236.7L485 232L508 232L510 236.7ZM651 236.7L653 230L661 230L663 236.7Z"/><path fill="#fee99a" d="M76.9 726L77.1 723.5L77.9 715.7L78.8 723.5L78.9 726ZM83.7 726L83.8 724.8L84.5 722L85.2 724.8L85.3 726ZM99.9 726L100 724.7L100.7 721.5L101.4 724.7L101.5 726ZM105.4 726L105.5 724.9L106.2 722.5L106.9 724.9L107 726ZM133.5 726L133.7 724.9L135 722.5L136.3 724.9L136.5 726ZM210.2 726L210.4 723.8L211.4 717L212.4 723.8L212.6 726ZM291.2 726L291.5 717.7L293.4 686.6L295.3 717.7L295.6 726ZM309.3 726L309.5 725.1L310.5 723.5L311.5 725.1L311.7 726ZM313 726L313.1 725.4L314 725L314.9 725.4L315 726ZM318 726L318.1 725.5L319 725.5L319.9 725.5L320 726ZM328 726L328.1 725.4L329 725L329.9 725.4L330 726ZM401.7 726L401.8 724.4L402.7 720L403.6 724.4L403.7 726ZM415.6 726L415.8 723.2L416.8 714.2L417.8 723.2L418 726ZM502.9 726L503.1 724.5L504.2 720.5L505.3 724.5L505.5 726ZM576 726L576.2 724.9L577.5 722.5L578.8 724.9L579 726ZM585 726L585.3 724.4L587 720L588.7 724.4L589 726ZM591.3 726L591.5 725L592.8 723L594.1 725L594.3 726ZM607.5 726L607.8 724.6L609.5 721L611.2 724.6L611.5 726ZM614.5 726L614.8 723.8L616.5 717.1L618.2 723.8L618.5 726ZM618.2 726L618.4 725L619.7 723L621 725L621.2 726ZM630.6 726L630.8 725L632.1 723L633.4 725L633.6 726Z"/><path fill="#edf8a3" d="M77.5 290.7L77.7 288.2L79 280.2L80.3 288.2L80.5 290.7ZM81 290.7L81.3 288.4L83 281L84.7 288.4L85 290.7ZM97.6 290.7L97.8 289.2L99.1 285.2L100.4 289.2L100.6 290.7ZM196 290.7L196.4 285L199 264.3L201.6 285L202 290.7ZM190 290.7L190.4 289.6L193 287L195.6 289.6L196 290.7ZM201 290.7L201.4 289L204 284L206.6 289L207 290.7ZM225 290.7L225.3 289.2L227 285L228.7 289.2L229 290.7ZM234 290.7L234.3 289.2L236 285.4L237.7 289.2L238 290.7ZM244.9 290.7L245.1 289.7L246.4 287.6L247.7 289.7L247.9 290.7ZM248.7 290.7L249 288.3L250.7 280.7L252.4 288.3L252.7 290.7ZM257.5 290.7L257.8 289.7L259.5 287.6L261.2 289.7L261.5 290.7ZM260.3 290.7L260.6 288.5L262.3 281.6L264 288.5L264.3 290.7ZM272.5 290.7L272.7 289.7L274 287.5L275.3 289.7L275.5 290.7ZM278.1 290.7L278.5 285.9L280.6 268.5L282.7 285.9L283.1 290.7ZM295.6 290.7L295.8 289.7L297.1 287.5L298.4 289.7L298.6 290.7ZM333.7 290.7L333.8 289.7L334.7 287.8L335.6 289.7L335.7 290.7ZM346.3 290.7L346.6 287.5L348.3 276.9L350 287.5L350.3 290.7ZM348.7 290.7L349 287.4L350.7 276L352.4 287.4L352.7 290.7ZM353.1 290.7L353.4 288.9L354.9 283.5L356.4 288.9L356.7 290.7ZM361.4 290.7L361.8 284.3L363.9 260.9L366 284.3L366.4 290.7ZM363 290.7L363.4 287.2L366 275L368.6 287.2L369 290.7ZM368.7 290.7L369 288.5L370.7 281.6L372.4 288.5L372.7 290.7ZM378.5 290.7L378.7 289.8L380 288L381.3 289.8L381.5 290.7ZM382 290.7L382.1 289.8L383 288L383.9 289.8L384 290.7ZM406.2 290.7L406.3 289.2L407.2 285L408.1 289.2L408.2 290.7ZM191 290.7L193 287.5L204 287.5L206 290.7ZM345 290.7L347 287L356 287L358 290.7ZM360 290.7L362 287.5L372 287.5L374 290.7ZM482.8 290.7L483.1 287.1L484.8 274.8L486.5 287.1L486.8 290.7ZM486.8 290.7L487.1 285.9L488.8 268.5L490.5 285.9L490.8 290.7ZM490 290.7L490.2 288.4L491.5 281L492.8 288.4L493 290.7ZM496.8 290.7L497.1 287.1L498.8 274.5L500.5 287.1L500.8 290.7ZM505 290.7L505.3 288L507 279L508.7 288L509 290.7ZM506.7 290.7L507 287.4L508.7 276.3L510.4 287.4L510.7 290.7ZM509.1 290.7L509.4 288.2L511.1 280L512.8 288.2L513.1 290.7ZM514 290.7L514.1 289.4L515 286L515.9 289.4L516 290.7ZM517 290.7L517.1 289.4L518 286L518.9 289.4L519 290.7ZM519 290.7L519.1 289.4L520 286L520.9 289.4L521 290.7ZM522 290.7L522.1 289.4L523 286L523.9 289.4L524 290.7ZM536.8 290.7L536.9 289.6L537.8 287L538.6 289.6L538.8 290.7ZM544.8 290.7L545.1 289.3L546.8 285.5L548.5 289.3L548.8 290.7ZM548.1 290.7L548.3 289.6L549.6 287L550.9 289.6L551.1 290.7ZM570.9 290.7L571 289.6L571.9 287L572.8 289.6L572.9 290.7ZM575.8 290.7L575.9 289.6L576.8 287L577.6 289.6L577.8 290.7ZM635.2 290.7L635.4 285L636.7 264L638 285L638.2 290.7ZM643.9 290.7L644.1 289L645.4 284.3L646.7 289L646.9 290.7ZM647.4 290.7L647.7 289.4L649.4 286.1L651.1 289.4L651.4 290.7ZM652.9 290.7L653.3 287.7L655.4 277.6L657.5 287.7L657.9 290.7ZM658.1 290.7L658.5 287.4L660.6 276.3L662.7 287.4L663.1 290.7ZM669 290.7L669.2 289.5L670.2 286.6L671.2 289.5L671.4 290.7ZM673.2 290.7L673.4 289.6L674.4 287.2L675.4 289.6L675.6 290.7ZM680.7 290.7L680.9 289.1L681.7 284.8L682.6 289.1L682.7 290.7ZM483 290.7L485 286.5L510.5 286.5L512.5 290.7ZM645 290.7L647 287L661 287L663 290.7Z"/><path fill="#edf8a3" d="M77.1 770.5L77.2 769L77.9 765L78.6 769L78.7 770.5ZM81.4 770.5L81.5 769.8L82 769L82.5 769.8L82.6 770.5ZM91.4 770.5L91.5 769.8L92 769L92.5 769.8L92.6 770.5ZM101 770.5L101.1 769.8L101.6 769L102.1 769.8L102.2 770.5ZM105.4 770.5L105.5 769.8L106.2 769L106.9 769.8L107 770.5ZM125.1 770.5L125.2 769.8L125.7 769L126.2 769.8L126.3 770.5ZM133.4 770.5L133.5 769.8L134 769L134.5 769.8L134.6 770.5ZM136.2 770.5L136.3 769.8L136.8 769L137.3 769.8L137.4 770.5ZM208.5 770.5L208.7 768.9L210 764.5L211.3 768.9L211.5 770.5ZM225.5 770.5L225.7 769.1L226.7 765.5L227.7 769.1L227.9 770.5ZM292.2 770.5L292.4 769.6L293.7 768L295 769.6L295.2 770.5ZM298.3 770.5L298.5 769.6L299.5 768L300.5 769.6L300.7 770.5ZM308.5 770.5L308.7 768.5L309.7 762.3L310.7 768.5L310.9 770.5ZM313 770.5L313.1 769.9L314 769.5L314.9 769.9L315 770.5ZM318.6 770.5L318.8 769.9L319.6 769.5L320.5 769.9L320.6 770.5ZM389.2 770.5L389.3 769L390.2 764.8L391.1 769L391.2 770.5ZM415.5 770.5L415.8 744.4L416.5 727.3L417.2 744.4L417.5 770.5ZM442 770.5L442.1 769L443 764.8L443.9 769L444 770.5ZM503.2 770.5L503.3 768L504.2 760.1L505.1 768L505.2 770.5ZM550.3 770.5L550.5 769.6L551.6 768L552.7 769.6L552.9 770.5ZM589.1 770.5L589.3 769.2L590.6 766L591.9 769.2L592.1 770.5ZM595.7 770.5L595.9 769.5L597.2 767.7L598.5 769.5L598.7 770.5ZM601.5 770.5L601.7 769.2L603 766.2L604.3 769.2L604.5 770.5ZM608 770.5L608.3 769.7L610 768.5L611.7 769.7L612 770.5ZM612.5 770.5L612.7 769.5L614 767.5L615.3 769.5L615.5 770.5ZM614.6 770.5L614.8 768.3L616.1 761.6L617.4 768.3L617.6 770.5ZM618 770.5L618.3 768.8L620 764.2L621.7 768.8L622 770.5ZM622.6 770.5L622.8 769.5L624.1 767.4L625.4 769.5L625.6 770.5ZM633.8 770.5L634.1 769.3L635.8 766.7L637.5 769.3L637.8 770.5ZM692.7 770.5L692.9 769.4L693.7 766.8L694.6 769.4L694.7 770.5ZM700.9 770.5L701 769.4L701.9 766.8L702.8 769.4L702.9 770.5Z"/><path fill="#a1d9a4" d="M78.4 344.2L78.8 303.9L79.6 294L80.4 303.9L80.8 344.2ZM98.7 344.2L99.1 329.5L100 320L100.9 329.5L101.3 344.2ZM192.1 344.2L192.4 340.5L194.1 327.7L195.8 340.5L196.1 344.2ZM197.9 344.2L198.3 301.8L199.3 294.4L200.3 301.8L200.7 344.2ZM192.5 344.2L193.2 342.2L197 336L200.8 342.2L201.5 344.2ZM230.1 344.2L230.4 341.1L231.9 330.9L233.4 341.1L233.7 344.2ZM261.2 344.2L261.4 341.1L262.7 330.5L264 341.1L264.2 344.2ZM273.7 344.2L274 341.1L275.5 330.5L277 341.1L277.3 344.2ZM279.4 344.2L279.9 325.9L281.1 314L282.3 325.9L282.8 344.2ZM348.2 344.2L348.9 314.7L350.4 302.3L351.9 314.7L352.6 344.2ZM360.4 344.2L360.7 340.9L362.4 329.6L364.1 340.9L364.4 344.2ZM363.3 344.2L363.5 342L364.8 335L366.1 342L366.3 344.2ZM369.8 344.2L370.3 319.4L371.4 295.2L372.5 319.4L373 344.2ZM370 344.2L370.4 340L373 325L375.6 340L376 344.2ZM406 344.2L406.2 341.5L407.2 332.8L408.2 341.5L408.4 344.2ZM191 344.2L193 338L201 338L203 344.2ZM483.6 344.2L483.8 341.4L485.1 332L486.4 341.4L486.6 344.2ZM488.9 344.2L489.6 319.2L491.1 294.8L492.6 319.2L493.3 344.2ZM487.3 344.2L489.3 323L492.5 323L494.5 344.2ZM493.7 344.2L494 340.1L495.7 325.7L497.4 340.1L497.7 344.2ZM497.3 344.2L497.6 338.1L499.3 315.7L501 338.1L501.3 344.2ZM501.3 344.2L501.6 339.7L503.3 323.8L505 339.7L505.3 344.2ZM506.3 344.2L506.5 341.6L507.8 333L509.1 341.6L509.3 344.2ZM509 344.2L509.2 341.6L510.5 333L511.8 341.6L512 344.2ZM517.3 344.2L517.6 338.3L519.1 316.6L520.6 338.3L520.9 344.2ZM627 344.2L627.2 341.1L628.5 330.7L629.8 341.1L630 344.2ZM635.6 344.2L636.1 314.6L637.2 295.2L638.3 314.6L638.8 344.2ZM655 344.2L655.5 317.7L656.6 300.3L657.7 317.7L658.2 344.2ZM659.2 344.2L659.5 338.3L661.2 316.6L662.9 338.3L663.2 344.2ZM679.6 344.2L679.8 341.2L681.1 331L682.4 341.2L682.6 344.2ZM489 344.2L491 339L504 339L506 344.2Z"/><path fill="#a1d9a4" d="M309.2 814.9L309.3 813.5L310.2 809.7L311.1 813.5L311.2 814.9ZM313 814.9L313.1 813.5L314 810L314.9 813.5L315 814.9ZM318.8 814.9L318.9 812L319.8 802.3L320.7 812L320.8 814.9ZM395.9 814.9L396 809.9L396.7 792L397.4 809.9L397.5 814.9ZM502.5 814.9L502.8 786.1L503.6 774L504.4 786.1L504.7 814.9ZM550.2 814.9L550.4 812.9L551.2 807L552.1 812.9L552.2 814.9ZM594.1 814.9L594.3 810.7L595.6 796L596.9 810.7L597.1 814.9ZM598.1 814.9L598.3 812.8L599.4 806.3L600.5 812.8L600.7 814.9ZM608.4 814.9L608.6 812.6L609.7 805.5L610.8 812.6L611 814.9ZM614.7 814.9L614.9 812.6L616 805.5L617.1 812.6L617.3 814.9Z"/><path fill="#48a1b3" d="M77.7 397.6L78.1 391.1L80.2 367.2L82.3 391.1L82.7 397.6ZM79 397.6L79.5 393.6L82 379.8L84.5 393.6L85 397.6ZM99.1 397.6L99.3 396.1L100.6 391.9L101.9 396.1L102.1 397.6ZM134.5 397.6L134.7 396.1L136 391.9L137.3 396.1L137.5 397.6ZM196.3 397.6L196.8 387.6L199.3 349.5L201.9 387.6L202.3 397.6ZM197.5 397.6L198 394.7L201 385L204 394.7L204.5 397.6ZM203 397.6L203.3 396.2L205 392.4L206.7 396.2L207 397.6ZM225.9 397.6L226.2 396.2L227.9 392.4L229.6 396.2L229.9 397.6ZM230.8 397.6L231.1 396.2L232.8 392.8L234.5 396.2L234.8 397.6ZM245.8 397.6L246 396.5L247.3 394L248.6 396.5L248.8 397.6ZM249.9 397.6L250.3 396.1L252.4 391.9L254.5 396.1L254.9 397.6ZM270.7 397.6L271 396.2L272.7 392.4L274.4 396.2L274.7 397.6ZM275.5 397.6L275.7 396.6L277 394.5L278.3 396.6L278.5 397.6ZM279 397.6L279.4 388.8L281.5 355.7L283.6 388.8L284 397.6ZM335.6 397.6L335.8 396.5L336.6 394L337.5 396.5L337.6 397.6ZM345.9 397.6L346.2 392.8L347.9 375.5L349.6 392.8L349.9 397.6ZM348.4 397.6L348.7 394.3L350.4 383L352.1 394.3L352.4 397.6ZM352.4 397.6L352.8 391.4L355.4 368.6L357.9 391.4L358.4 397.6ZM360.4 397.6L360.7 394.9L362.4 386L364.1 394.9L364.4 397.6ZM362.7 397.6L363.1 393.2L365.2 377.4L367.3 393.2L367.7 397.6ZM369.8 397.6L370.1 393.8L371.8 380.6L373.5 393.8L373.8 397.6ZM380.8 397.6L380.9 396.6L381.8 394.5L382.7 396.6L382.8 397.6ZM403.3 397.6L403.4 396.5L404.3 394L405.2 396.5L405.3 397.6ZM196 397.6L198 393L202 393L204 397.6ZM346 397.6L348 391.5L356 391.5L358 397.6ZM360 397.6L362 392.5L366 392.5L368 397.6ZM482.2 397.6L482.5 395.5L484.2 389.2L485.9 395.5L486.2 397.6ZM485.3 397.6L485.6 394.5L487.3 384.3L489 394.5L489.3 397.6ZM487.1 397.6L487.4 395.9L489.1 391L490.8 395.9L491.1 397.6ZM489.5 397.6L489.8 393.3L491.5 378.3L493.2 393.3L493.5 397.6ZM491.9 397.6L492.2 396.1L493.9 392L495.6 396.1L495.9 397.6ZM493.7 397.6L494 395.1L495.7 387L497.4 395.1L497.7 397.6ZM497.7 397.6L498 393.8L499.7 380.7L501.4 393.8L501.7 397.6ZM501.3 397.6L501.6 394.9L503.3 386L505 394.9L505.3 397.6ZM505 397.6L505.3 394.7L507 385L508.7 394.7L509 397.6ZM508 397.6L508.4 394.1L510.5 382L512.6 394.1L513 397.6ZM517.6 397.6L517.9 395.8L519.6 390.6L521.3 395.8L521.6 397.6ZM521.8 397.6L522 396.3L523.3 393L524.6 396.3L524.8 397.6ZM537.1 397.6L537.3 396.6L538.3 394.5L539.3 396.6L539.5 397.6ZM541.7 397.6L541.9 396.3L543.2 393L544.5 396.3L544.7 397.6ZM546.5 397.6L546.7 396.6L547.7 394.5L548.7 396.6L548.9 397.6ZM551.1 397.6L551.3 396.6L552.3 394.5L553.3 396.6L553.5 397.6ZM562.5 397.6L562.7 396.5L563.7 394L564.7 396.5L564.9 397.6ZM626.6 397.6L626.8 395.8L628.1 390.6L629.4 395.8L629.6 397.6ZM634.7 397.6L635 393L636.7 376.5L638.4 393L638.7 397.6ZM646.5 397.6L646.9 394.9L649 386.1L651.1 394.9L651.5 397.6ZM650.6 397.6L650.9 395.7L652.6 390L654.3 395.7L654.6 397.6ZM655 397.6L655.3 390.5L657 364.3L658.7 390.5L659 397.6ZM657 397.6L657.3 392.4L659 373.8L660.7 392.4L661 397.6ZM659.2 397.6L659.6 390.1L661.7 362L663.8 390.1L664.2 397.6ZM668.7 397.6L668.9 396.4L670.2 393.4L671.5 396.4L671.7 397.6ZM672.3 397.6L672.7 392.1L674.8 372L676.9 392.1L677.3 397.6ZM682.7 397.6L683 394.4L684.7 383.8L686.4 394.4L686.7 397.6ZM483 397.6L485 392.5L510.5 392.5L512.5 397.6ZM647 397.6L649 391L661.5 391L663.5 397.6Z"/><path fill="#48a1b3" d="M76.9 859.1L77.1 857L77.9 850.8L78.8 857L78.9 859.1ZM88.7 859.1L88.8 858.4L89.5 857.5L90.2 858.4L90.3 859.1ZM91.5 859.1L91.6 858.4L92.3 857.5L93 858.4L93.1 859.1ZM104.9 859.1L105.1 857.7L105.9 853.9L106.8 857.7L106.9 859.1ZM209.3 859.1L209.5 857.5L210.6 853L211.7 857.5L211.9 859.1ZM290.7 859.1L290.9 858.3L292.2 857L293.5 858.3L293.7 859.1ZM295 859.1L295.1 858.5L296 858L296.9 858.5L297 859.1ZM298.5 859.1L298.7 858.4L300 857.5L301.3 858.4L301.5 859.1ZM308.7 859.1L308.9 857.5L310.2 853.1L311.5 857.5L311.7 859.1ZM317.4 859.1L317.5 858.5L318.4 858L319.2 858.5L319.4 859.1ZM398.5 859.1L398.6 857.7L399.5 854L400.4 857.7L400.5 859.1ZM415.7 859.1L415.8 855.5L416.7 843L417.6 855.5L417.7 859.1ZM427.8 859.1L427.9 857.7L428.8 854L429.7 857.7L429.8 859.1ZM438.4 859.1L438.5 857.7L439.4 854L440.2 857.7L440.4 859.1ZM441.3 859.1L441.4 857.7L442.3 854L443.2 857.7L443.3 859.1ZM446.2 859.1L446.3 857.7L447.2 854L448.1 857.7L448.2 859.1ZM502.7 859.1L502.9 856.7L504 849.2L505.1 856.7L505.3 859.1ZM518.7 859.1L518.9 857.9L519.7 855L520.6 857.9L520.7 859.1ZM550 859.1L550.1 858.2L551.2 856.5L552.4 858.2L552.5 859.1ZM581.2 859.1L581.4 858.2L582.7 856.5L584 858.2L584.2 859.1ZM585.4 859.1L585.6 857.2L586.9 851.6L588.2 857.2L588.4 859.1ZM587.5 859.1L587.7 857.9L589 855L590.3 857.9L590.5 859.1ZM590.5 859.1L590.7 857.6L592 853.4L593.3 857.6L593.5 859.1ZM603 859.1L603.2 858.2L604.5 856.6L605.8 858.2L606 859.1ZM613 859.1L613.4 851.6L615.5 823.4L617.6 851.6L618 859.1ZM615.6 859.1L616.1 855.9L618.6 845.3L621.1 855.9L621.6 859.1ZM619 859.1L619.3 856.3L621 846.9L622.7 856.3L623 859.1ZM624.5 859.1L624.7 858.2L626 856.5L627.3 858.2L627.5 859.1ZM627.5 859.1L627.7 858.2L629 856.5L630.3 858.2L630.5 859.1ZM630.5 859.1L630.7 858.2L632 856.5L633.3 858.2L633.5 859.1ZM634.6 859.1L634.8 857.7L635.8 854L636.8 857.7L637 859.1ZM694.8 859.1L694.9 858.2L695.8 856.5L696.6 858.2L696.8 859.1ZM700.6 859.1L700.8 858.2L701.6 856.7L702.5 858.2L702.6 859.1ZM707.4 859.1L707.6 857.7L708.6 853.9L709.6 857.7L709.8 859.1ZM611.3 859.1L613.3 852L620.5 852L622.5 859.1Z"/><path fill="#5e4fa2" d="M73.9 451.5L74.2 447.9L75.9 435.4L77.6 447.9L77.9 451.5ZM77.1 451.5L77.5 444.4L79.6 417.8L81.7 444.4L82.1 451.5ZM80.8 451.5L81.1 446.2L82.8 427.1L84.5 446.2L84.8 451.5ZM103 451.5L103.3 449.7L104.8 444.7L106.3 449.7L106.6 451.5ZM108.4 451.5L108.7 449.8L110.2 445L111.7 449.8L112 451.5ZM117.1 451.5L117.4 449.1L119.1 441.4L120.8 449.1L121.1 451.5ZM196 451.5L196.4 442L199 406.2L201.6 442L202 451.5ZM198 451.5L198.4 445.3L201 422.5L203.6 445.3L204 451.5ZM204.5 451.5L204.8 450L206.5 446L208.2 450L208.5 451.5ZM235.9 451.5L236.2 449.8L237.9 445L239.6 449.8L239.9 451.5ZM246.5 451.5L246.8 450.3L248.5 447.5L250.2 450.3L250.5 451.5ZM248.9 451.5L249.3 449.4L251.4 442.8L253.5 449.4L253.9 451.5ZM260.8 451.5L261 450.3L262.3 447.5L263.6 450.3L263.8 451.5ZM265.5 451.5L265.7 450.4L267 448L268.3 450.4L268.5 451.5ZM267 451.5L267.2 450.4L268.5 448L269.8 450.4L270 451.5ZM278.1 451.5L278.6 446.1L281.1 426.3L283.7 446.1L284.1 451.5ZM291.3 451.5L291.5 450.4L292.8 448L294.1 450.4L294.3 451.5ZM346.3 451.5L346.6 447.6L348.3 433.8L350 447.6L350.3 451.5ZM348.7 451.5L349 448.8L350.7 440L352.4 448.8L352.7 451.5ZM353 451.5L353.3 447.3L355 432.5L356.7 447.3L357 451.5ZM356 451.5L356.3 450L358 446L359.7 450L360 451.5ZM361 451.5L361.4 448.1L363.5 436.6L365.6 448.1L366 451.5ZM363.3 451.5L363.7 448.6L365.8 439L367.9 448.6L368.3 451.5ZM369.3 451.5L369.7 448.6L371.8 438.9L373.9 448.6L374.3 451.5ZM377.2 451.5L377.4 450.3L378.4 447.5L379.4 450.3L379.6 451.5ZM398.8 451.5L399 450.3L400 447.5L401 450.3L401.2 451.5ZM402.8 451.5L403 450.3L404 447.5L405 450.3L405.2 451.5ZM196 451.5L198 447L203 447L205 451.5ZM346 451.5L348 447L356 447L358 451.5ZM361 451.5L363 447L367 447L369 451.5ZM482.2 451.5L482.5 449.3L484.2 442.4L485.9 449.3L486.2 451.5ZM484.6 451.5L484.9 448.4L486.6 438.2L488.3 448.4L488.6 451.5ZM487.7 451.5L488 445.5L489.7 423.7L491.4 445.5L491.7 451.5ZM489.5 451.5L489.8 445.8L491.5 425L493.2 445.8L493.5 451.5ZM492.2 451.5L492.5 450L494.2 446L495.9 450L496.2 451.5ZM497.3 451.5L497.6 445.4L499.3 422.8L501 445.4L501.3 451.5ZM500.9 451.5L501.2 448.6L502.9 439L504.6 448.6L504.9 451.5ZM504.9 451.5L505.2 449.1L506.9 441.7L508.6 449.1L508.9 451.5ZM509.5 451.5L509.8 446.1L511.5 426.4L513.2 446.1L513.5 451.5ZM518.2 451.5L518.5 449.7L520 444.5L521.5 449.7L521.8 451.5ZM540.3 451.5L540.6 449.5L542.3 443.5L544 449.5L544.3 451.5ZM545.3 451.5L545.5 450.2L546.5 447L547.5 450.2L547.7 451.5ZM548.4 451.5L548.6 450.2L549.6 447L550.6 450.2L550.8 451.5ZM634.5 451.5L634.9 446.4L637 428.2L639.1 446.4L639.5 451.5ZM647.5 451.5L647.7 449.6L649 444.2L650.3 449.6L650.5 451.5ZM650 451.5L650.2 449.7L651.5 444.5L652.8 449.7L653 451.5ZM653.4 451.5L653.7 446.4L655.4 427.8L657.1 446.4L657.4 451.5ZM656.8 451.5L657.2 445.4L659.3 423.1L661.4 445.4L661.8 451.5ZM659.5 451.5L659.9 447.9L662 435.5L664.1 447.9L664.5 451.5ZM672.4 451.5L672.7 449.6L674.4 444.2L676.1 449.6L676.4 451.5ZM682.6 451.5L682.8 450.3L683.8 447.3L684.8 450.3L685 451.5ZM686.6 451.5L686.8 450.3L687.8 447.3L688.8 450.3L689 451.5ZM483 451.5L485 447L511.5 447L513.5 451.5ZM648 451.5L650 446.5L662 446.5L664 451.5Z"/><path fill="#5e4fa2" d="M76.4 903.6L76.6 901.6L77.9 895.6L79.2 901.6L79.4 903.6ZM97.4 903.6L97.5 902.7L98.2 901L98.9 902.7L99 903.6ZM287.3 903.6L287.4 902.9L288.3 902L289.2 902.9L289.3 903.6ZM292.3 903.6L292.5 902.8L293.8 901.5L295.1 902.8L295.3 903.6ZM296.7 903.6L296.8 902.9L297.7 902.3L298.6 902.9L298.7 903.6ZM308.9 903.6L309.1 901.8L310.2 896.6L311.3 901.8L311.5 903.6ZM312.8 903.6L313 902.8L314 901.5L315 902.8L315.2 903.6ZM316.8 903.6L317 902.8L318 901.8L319 902.8L319.2 903.6ZM415.4 903.6L415.6 900.9L416.7 892.2L417.8 900.9L418 903.6ZM440.7 903.6L440.9 900.3L442 889L443.1 900.3L443.3 903.6ZM498.4 903.6L498.5 902.8L499.4 901.5L500.2 902.8L500.4 903.6ZM502.5 903.6L502.7 901.4L504 894.5L505.3 901.4L505.5 903.6ZM550 903.6L550.1 902.6L551 900.5L551.9 902.6L552 903.6ZM580.6 903.6L580.8 902.7L581.6 901L582.5 902.7L582.6 903.6ZM585.6 903.6L585.8 902.7L586.6 901L587.5 902.7L587.6 903.6ZM588.7 903.6L588.9 902.7L589.7 901L590.6 902.7L590.7 903.6ZM597.3 903.6L597.4 902.7L598.3 901L599.1 902.7L599.3 903.6ZM601.2 903.6L601.4 902.7L602.2 901L603.1 902.7L603.2 903.6ZM605.1 903.6L605.2 902.7L606.1 901L607 902.7L607.1 903.6ZM615.2 903.6L615.5 900.4L617 889.8L618.5 900.4L618.8 903.6ZM625.1 903.6L625.4 902.3L626.9 899.2L628.4 902.3L628.7 903.6ZM630.7 903.6L630.9 902.6L632.2 900.8L633.5 902.6L633.7 903.6ZM684.3 903.6L684.5 894.8L685.6 861.7L688.1 894.8L688.6 903.6Z"/><circle cx="184.4" cy="396.4" r="0.9" fill="#222"/><g font-size="11.4"><text x="28.1" y="45.6">B73 rep1</text><text x="27.8" y="95">B73 rep2</text><text x="28.3" y="148.8">B97</text><text x="29.3" y="201.5">Ky21</text><text x="25.9" y="253.9">M162W</text><text x="25.9" y="307.2">Mo18W</text><text x="27.4" y="361.4">OH7B</text><text x="26.4" y="409.6">Tzi8</text><text x="42.6" y="563.8">B73 rep1</text><text x="42.6" y="613.8">B73 rep2</text><text x="44.3" y="660.3">B97</text><text x="45.4" y="701.5">Ky21</text><text x="43.5" y="743.9">M162W</text><text x="43.5" y="787.4">Mo18W</text><text x="43.5" y="832">OH7B</text><text x="46.5" y="875.2">Tzi8</text></g><g font-size="10" text-anchor="end"><text x="159.4" y="46.6">N=2,055</text><text x="159.4" y="100.4">N=388</text><text x="159" y="155.6">N=946</text><text x="157.1" y="208.4">N=444</text><text x="159.4" y="259.9">N=597</text><text x="160.8" y="313.1">N=179</text><text x="157.5" y="363.2">N=666</text><text x="159" y="418.9">N=562</text><text x="444.8" y="48.8">N=2,055</text><text x="444.8" y="102.8">N=388</text><text x="444.8" y="157.7">N=946</text><text x="442.9" y="211.3">N=444</text><text x="444.8" y="262.3">N=597</text><text x="446.3" y="316.1">N=179</text><text x="443.3" y="365.3">N=666</text><text x="444.8" y="420.7">N=562</text><text x="730.7" y="45.3">N=1,411</text><text x="731.9" y="99.8">N=374</text><text x="731.9" y="154.2">N=540</text><text x="729.6" y="208.1">N=327</text><text x="732.8" y="259">N=369</text><text x="733.4" y="312.7">N=140</text><text x="729.6" y="362.4">N=397</text><text x="731" y="417.4">N=297</text></g><g font-size="11"><text x="59" y="502.6"><tspan class="i">ZmSML5</tspan>: Phloem</text><text x="197.6" y="503.4"><tspan class="i">Wox4</tspan>: Procambium</text><text x="327" y="503.4"><tspan class="i">Zm_MP2</tspan>: Procambium</text><text x="489.8" y="502"><tspan class="i">Vnd6</tspan>: Xylem</text><text x="634.5" y="502.5"><tspan class="i">Tmo5</tspan>: Xylem</text></g><g font-size="10.4" font-style="italic"><text transform="translate(55.8 944.8) scale(0.905 1)">Zm00001eb147200</text><text transform="translate(163.1 946) scale(0.905 1)">Zm00001eb180340</text><text transform="translate(261.7 946) scale(0.905 1)">Zm00001eb147920</text><text transform="translate(370.2 947.5) scale(0.905 1)">Zm00001eb127650</text><text transform="translate(470.8 947.5) scale(0.905 1)">Zm00001eb205670</text><text transform="translate(567.5 947.5) scale(0.905 1)">Zm00001eb231510</text><text transform="translate(660.2 946) scale(0.905 1)">Zm00001eb280310</text></g><text font-size="12.6" transform="translate(31.7 830.6) rotate(-90)">Procambium phloem precursor</text><g fill="#000" stroke="none"><rect x="82" y="477.5" width="2.5" height="4.6"/><rect x="84" y="474.8" width="9.9" height="10" rx="0.6"/><rect x="93.5" y="479.6" width="3" height="1.2"/><rect x="96.1" y="474.8" width="1.5" height="10"/><rect x="97.5" y="479.6" width="2" height="1.2"/><rect x="99.1" y="474.8" width="9.9" height="10" rx="0.6"/><rect x="108.5" y="477.5" width="2.7" height="4.6"/><rect x="233.1" y="477.1" width="3.9" height="4.8"/><rect x="236.7" y="475.2" width="1.4" height="9.3"/><rect x="238" y="476.5" width="2" height="6.7" fill="#c8c8c8"/><rect x="238" y="479.3" width="7" height="1.1"/><rect x="240" y="475.2" width="1.9" height="9.3"/><rect x="241.9" y="476.5" width="2.3" height="6.7" fill="#c8c8c8"/><rect x="244.2" y="475.2" width="1.7" height="9.3"/><rect x="245.7" y="477.1" width="4.1" height="4.8"/><rect x="364.7" y="477.4" width="3.1" height="4.4"/><rect x="367.6" y="479.2" width="2" height="1"/><rect x="369.4" y="477.4" width="5" height="4.4"/><rect x="374.2" y="475" width="10.8" height="9.5" fill="#6a6a6a"/><rect x="374.6" y="475" width="0.8" height="9.5"/><rect x="380" y="475" width="2.2" height="9.5"/><rect x="376.5" y="475" width="2.5" height="9.5" fill="#999"/><rect x="385" y="479.2" width="7.5" height="1"/><rect x="387" y="475" width="2.7" height="9.5" fill="#555"/><rect x="392.4" y="475" width="11.2" height="9.5"/><rect x="393.8" y="475" width="0.6" height="9.5" fill="#555"/><rect x="404" y="475" width="0.8" height="9.5"/><rect x="405.3" y="475" width="0.7" height="9.5"/><rect x="403.5" y="479.2" width="3" height="1"/><rect x="406.3" y="477.4" width="2.7" height="4.4"/><rect x="518.5" y="477" width="7.3" height="5.1"/><rect x="525.8" y="479.1" width="9.2" height="1"/><rect x="534.9" y="474.8" width="1" height="10"/><rect x="535.9" y="479.1" width="1.7" height="1"/><rect x="537.6" y="475" width="2.1" height="9.6"/><rect x="539.7" y="479.1" width="1.3" height="1"/><rect x="540.9" y="474.8" width="4.3" height="10"/><rect x="545.2" y="477" width="3.5" height="5.1"/><rect x="663.6" y="475.3" width="5.2" height="9.5"/><rect x="663.1" y="477.5" width="0.9" height="5"/><rect x="668.8" y="479.7" width="7.8" height="1.1"/><rect x="676.6" y="475.3" width="4.3" height="9.5"/><rect x="680.9" y="478" width="2.5" height="4.7"/><rect x="77.4" y="924.9" width="2.6" height="3.5"/><rect x="80" y="926.2" width="2" height="1.1"/><rect x="81.9" y="922.7" width="7.3" height="7.9" rx="1"/><rect x="89.2" y="926.2" width="24.3" height="1.1"/><rect x="113" y="925.2" width="1.3" height="3.2" fill="#555"/><rect x="197.1" y="924.8" width="0.9" height="4"/><rect x="198" y="926.4" width="12" height="1.5"/><rect x="198.8" y="923.1" width="1.6" height="7.6" fill="#777"/><rect x="203.3" y="923.1" width="1.6" height="7.6" fill="#888"/><rect x="204.9" y="924.8" width="1.1" height="4"/><rect x="208.8" y="924.8" width="1.3" height="4"/><path d="M295.2 927.6Q295.2 925.8 297 925.8H298.6V929.4H297Q295.2 929.4 295.2 927.6Z"/><rect x="297.8" y="924.2" width="1.3" height="7.5"/><rect x="299" y="927.5" width="4.3" height="1.3"/><rect x="303.2" y="924.2" width="1.6" height="7.5"/><rect x="307.5" y="924.2" width="1.6" height="7.5"/><rect x="400.8" y="924.4" width="1.4" height="4.4"/><rect x="402" y="925.8" width="14" height="1.4"/><rect x="408.2" y="922.5" width="1.8" height="8.2"/><rect x="415.7" y="924.6" width="1.3" height="4"/><rect x="503" y="925" width="2.9" height="3.8"/><rect x="505.4" y="923" width="0.6" height="7.4" fill="#aaa"/><rect x="505.9" y="925.8" width="12.1" height="1.7"/><rect x="510.2" y="923.1" width="2.4" height="7.6"/><rect x="514.8" y="923.1" width="1.1" height="7.6"/><rect x="516.8" y="923.1" width="1.2" height="7.6"/><rect x="518" y="925" width="2" height="3.6"/><path d="M595.5 926.6L596.5 923.5L598.8 922.5V930.6L596.5 929.7Z"/><rect x="601" y="922.5" width="0.9" height="8.1"/><rect x="598.8" y="925.9" width="19.1" height="1.4"/><rect x="612.9" y="922.5" width="0.9" height="8.1" fill="#666"/><rect x="615" y="922.5" width="1.2" height="8.1"/><rect x="616.2" y="922.5" width="1.7" height="8.1" fill="#aaa"/><path d="M617.9 922.5H620.3L621.5 926.6L620.3 930.6H617.9Z"/><ellipse cx="700.4" cy="927" rx="3.5" ry="4.3"/></g></svg></body></html>
